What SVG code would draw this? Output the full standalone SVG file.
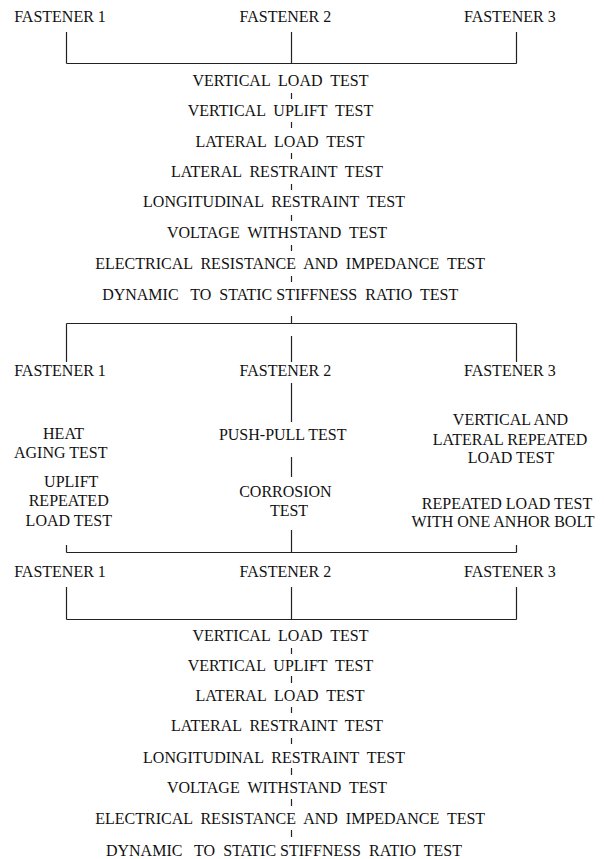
<svg xmlns="http://www.w3.org/2000/svg" width="604" height="859" viewBox="0 0 604 859">
<style>
text{font-family:"Liberation Serif","Times New Roman",serif;font-size:16px;fill:#111;text-anchor:middle;white-space:pre}
.c line{stroke:#222;stroke-width:1.2;fill:none}
</style>
<rect width="604" height="859" fill="#fff"/>
<g class="c" id="connectors">
<line x1="66.5" y1="32" x2="66.5" y2="63.5"/>
<line x1="291.5" y1="32" x2="291.5" y2="63.5"/>
<line x1="516.5" y1="32" x2="516.5" y2="63.5"/>
<line x1="66.5" y1="63.5" x2="516.5" y2="63.5"/>
<line x1="291.5" y1="93" x2="291.5" y2="99"/>
<line x1="291.5" y1="122" x2="291.5" y2="128"/>
<line x1="291.5" y1="153" x2="291.5" y2="159"/>
<line x1="291.5" y1="184" x2="291.5" y2="190"/>
<line x1="291.5" y1="215" x2="291.5" y2="221"/>
<line x1="291.5" y1="245" x2="291.5" y2="251"/>
<line x1="291.5" y1="276" x2="291.5" y2="282"/>
<line x1="291.5" y1="316" x2="291.5" y2="323.5"/>
<line x1="66.5" y1="323.5" x2="516.5" y2="323.5"/>
<line x1="66.5" y1="323.5" x2="66.5" y2="362"/>
<line x1="516.5" y1="323.5" x2="516.5" y2="362"/>
<line x1="291.5" y1="336" x2="291.5" y2="362"/>
<line x1="291.5" y1="383" x2="291.5" y2="422"/>
<line x1="291.5" y1="457" x2="291.5" y2="477"/>
<line x1="291.5" y1="530" x2="291.5" y2="552.5"/>
<line x1="66.5" y1="552.5" x2="516.5" y2="552.5"/>
<line x1="66.5" y1="545" x2="66.5" y2="552.5"/>
<line x1="516.5" y1="545" x2="516.5" y2="552.5"/>
<line x1="66.5" y1="587" x2="66.5" y2="619.5"/>
<line x1="291.5" y1="587" x2="291.5" y2="619.5"/>
<line x1="516.5" y1="587" x2="516.5" y2="619.5"/>
<line x1="66.5" y1="619.5" x2="516.5" y2="619.5"/>
<line x1="291.5" y1="648" x2="291.5" y2="654"/>
<line x1="291.5" y1="676" x2="291.5" y2="683"/>
<line x1="291.5" y1="707" x2="291.5" y2="713"/>
<line x1="291.5" y1="738" x2="291.5" y2="744"/>
<line x1="291.5" y1="768" x2="291.5" y2="775"/>
<line x1="291.5" y1="799" x2="291.5" y2="806"/>
<line x1="291.5" y1="830" x2="291.5" y2="837"/>
</g>
<g id="top-fasteners">
<g id="f1a"><text x="60" y="22">FASTENER 1</text></g>
<g id="f2a"><text x="285.4" y="22">FASTENER 2</text></g>
<g id="f3a"><text x="509.8" y="22">FASTENER 3</text></g>
</g>
<g id="tests-a">
<g id="a1"><text x="280.5" y="86">VERTICAL  LOAD  TEST</text></g>
<g id="a2"><text x="280.5" y="116">VERTICAL  UPLIFT  TEST</text></g>
<g id="a3"><text x="280" y="147">LATERAL  LOAD  TEST</text></g>
<g id="a4"><text x="277" y="177">LATERAL  RESTRAINT  TEST</text></g>
<g id="a5"><text x="274" y="207">LONGITUDINAL  RESTRAINT  TEST</text></g>
<g id="a6"><text x="277" y="238">VOLTAGE  WITHSTAND  TEST</text></g>
<g id="a7"><text x="290.2" y="269">ELECTRICAL  RESISTANCE  AND  IMPEDANCE  TEST</text></g>
<g id="a8"><text x="280.2" y="300">DYNAMIC   TO  STATIC STIFFNESS  RATIO  TEST</text></g>
</g>
<g id="mid-fasteners">
<g id="f1b"><text x="60" y="376">FASTENER 1</text></g>
<g id="f2b"><text x="285.4" y="376">FASTENER 2</text></g>
<g id="f3b"><text x="509.8" y="376">FASTENER 3</text></g>
</g>
<g id="f1-tests">
<g id="heat"><text x="63.5" y="439">HEAT</text><text x="60.7" y="458">AGING TEST</text></g>
<g id="uplift"><text x="71.2" y="487">UPLIFT</text><text x="68.7" y="506">REPEATED</text><text x="68.8" y="526">LOAD TEST</text></g>
</g>
<g id="f2-tests">
<g id="pushpull"><text x="282.7" y="440">PUSH-PULL TEST</text></g>
<g id="corrosion"><text x="285.4" y="497">CORROSION</text><text x="289" y="516">TEST</text></g>
</g>
<g id="f3-tests">
<g id="vlrepeated"><text x="510.5" y="425">VERTICAL AND</text><text x="510" y="445">LATERAL REPEATED</text><text x="511" y="463">LOAD TEST</text></g>
<g id="anchor"><text x="507" y="509">REPEATED LOAD TEST</text><text x="503" y="527">WITH ONE ANHOR BOLT</text></g>
</g>
<g id="bottom-fasteners">
<g id="f1c"><text x="60" y="577">FASTENER 1</text></g>
<g id="f2c"><text x="285.4" y="577">FASTENER 2</text></g>
<g id="f3c"><text x="509.8" y="577">FASTENER 3</text></g>
</g>
<g id="tests-c">
<g id="c1"><text x="280.5" y="641">VERTICAL  LOAD  TEST</text></g>
<g id="c2"><text x="280.5" y="671">VERTICAL  UPLIFT  TEST</text></g>
<g id="c3"><text x="280" y="701">LATERAL  LOAD  TEST</text></g>
<g id="c4"><text x="277" y="731">LATERAL  RESTRAINT  TEST</text></g>
<g id="c5"><text x="274" y="763">LONGITUDINAL  RESTRAINT  TEST</text></g>
<g id="c6"><text x="277" y="793">VOLTAGE  WITHSTAND  TEST</text></g>
<g id="c7"><text x="290.2" y="824">ELECTRICAL  RESISTANCE  AND  IMPEDANCE  TEST</text></g>
<g id="c8"><text x="284" y="856">DYNAMIC   TO  STATIC STIFFNESS  RATIO  TEST</text></g>
</g>
</svg>
